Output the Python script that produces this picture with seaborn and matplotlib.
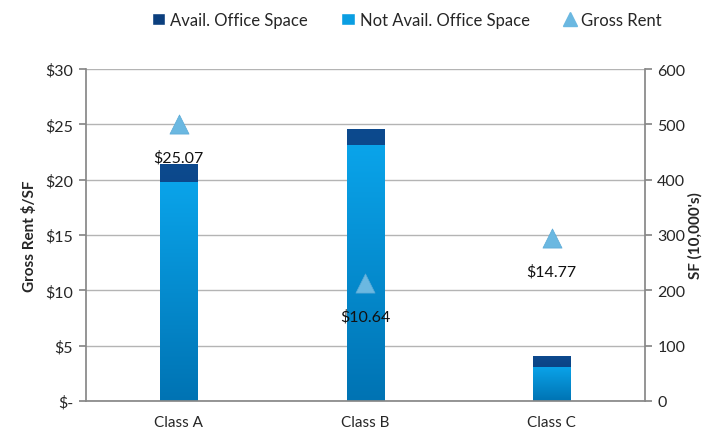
import numpy as np
import matplotlib
matplotlib.use('Agg')
import matplotlib.pyplot as plt
import seaborn as sns
from matplotlib.ticker import FuncFormatter, FixedLocator
from matplotlib.patches import Patch
from matplotlib.lines import Line2D
from matplotlib.colors import LinearSegmentedColormap

categories = ['Class A', 'Class B', 'Class C']
not_avail = [396, 462, 62]      # SF (10,000's)
avail = [32, 30, 20]            # SF (10,000's)
gross_rent = [25.07, 10.64, 14.77]

sns.set_theme(style='white')
plt.rcParams['font.family'] = ['Lato', 'DejaVu Sans']

fig = plt.figure(figsize=(7.14, 4.35), dpi=100)
ax1 = fig.add_axes([0.120, 0.076, 0.783, 0.763])
ax2 = ax1.twinx()
ax1.set_zorder(ax2.get_zorder() + 1)
ax1.patch.set_visible(False)

totals = [a + b for a, b in zip(not_avail, avail)]
dark = '#0b3f7e'
light = '#0a9ee2'

sns.barplot(x=categories, y=totals, color=dark, width=0.2, saturation=1,
            linewidth=0, ax=ax2, zorder=2)
n_dark = len(ax2.patches)
sns.barplot(x=categories, y=not_avail, color=light, width=0.2, saturation=1,
            linewidth=0, ax=ax2, zorder=3)

# gradient fill for bars
grad = np.linspace(0, 1, 256).reshape(-1, 1)
cmap_dark = LinearSegmentedColormap.from_list('d', ['#06336e', '#0d4a8e'])
cmap_light = LinearSegmentedColormap.from_list('l', ['#0073b3', '#0aa4ea'])
for i, p in enumerate(ax2.patches):
    x0, y0 = p.get_x(), p.get_y()
    w, h = p.get_width(), p.get_height()
    cm = cmap_dark if i < n_dark else cmap_light
    im = ax2.imshow(grad, cmap=cm, extent=[x0, x0 + w, y0, y0 + h],
                    origin='lower', aspect='auto', zorder=p.get_zorder())
    im.set_clip_path(p)

ax2.set_ylim(0, 600)
ax2.set_xlim(-0.5, 2.5)
ax2.yaxis.set_major_locator(FixedLocator(range(0, 601, 100)))
ax2.grid(axis='y', color='#b4b4b4', linewidth=1, zorder=0)
ax2.set_axisbelow(True)
ax2.set_ylabel("SF (10,000's)", fontsize=11, fontweight='bold', labelpad=2)

sns.scatterplot(x=categories, y=gross_rent, marker='^', s=190,
                color='#6bb8e1', edgecolor='#5aa9d6', linewidth=0.5,
                ax=ax1, zorder=5)
for i, v in enumerate(gross_rent):
    ax1.annotate(f'${v:.2f}', (i, v), xytext=(0, -24), textcoords='offset points',
                 ha='center', va='center', fontsize=11.5, color='#111111')

ax1.set_ylim(0, 30)
ax1.set_xlim(-0.5, 2.5)
ax1.yaxis.set_major_locator(FixedLocator(range(0, 31, 5)))
ax1.yaxis.set_major_formatter(FuncFormatter(lambda v, p: '$-' if v == 0 else f'${v:.0f}'))
ax1.set_ylabel('Gross Rent $/SF', fontsize=11, fontweight='bold', labelpad=6)
ax1.set_xticks([0, 1, 2])
ax1.set_xticklabels(categories)
ax1.xaxis.set_minor_locator(FixedLocator([0.5, 1.5, 2.5]))
ax1.tick_params(axis='x', which='major', length=0, pad=10, labelsize=11)
ax1.tick_params(axis='x', which='minor', length=5, color='#888888', direction='out')
ax1.tick_params(axis='y', length=5, color='#888888', direction='out', labelsize=11.5, pad=4)
ax2.tick_params(axis='y', length=5, color='#888888', direction='out', labelsize=11.5, pad=4)
ax2.tick_params(axis='x', length=0)

for ax in (ax1, ax2):
    for s in ax.spines.values():
        s.set_visible(False)
ax1.spines['left'].set_visible(True)
ax1.spines['left'].set_color('#888888')
ax1.spines['bottom'].set_visible(True)
ax1.spines['bottom'].set_color('#888888')
ax2.spines['right'].set_visible(True)
ax2.spines['right'].set_color('#888888')

handles = [Patch(facecolor=dark, label='Avail. Office Space'),
           Patch(facecolor=light, label='Not Avail. Office Space'),
           Line2D([], [], marker='^', linestyle='none', color='#6bb8e1',
                  markersize=10, label='Gross Rent')]
fig.legend(handles=handles, loc='upper center', bbox_to_anchor=(0.57, 1.005),
           ncol=3, frameon=False, fontsize=12, handlelength=0.8,
           handletextpad=0.3, columnspacing=2.0)

fig.savefig('out.png', dpi=100)
